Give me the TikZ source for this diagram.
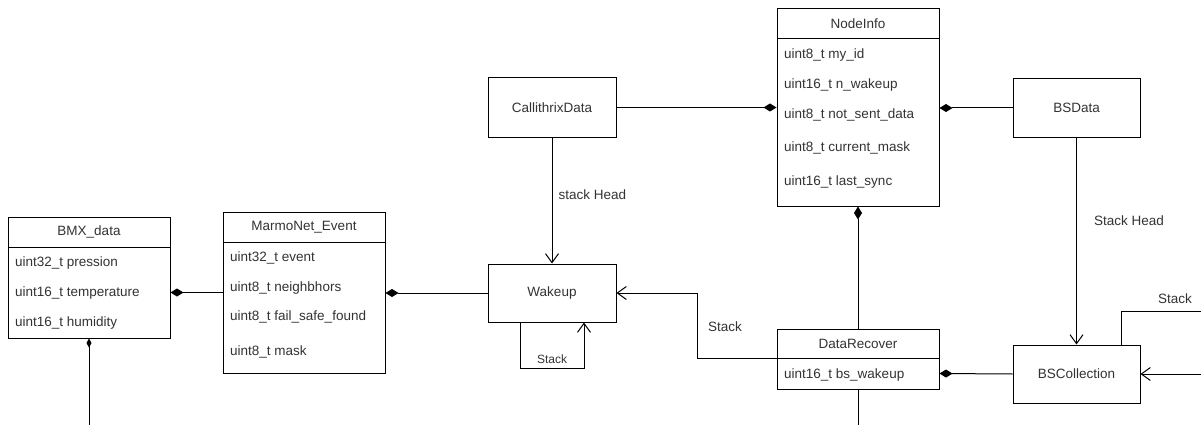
\documentclass[tikz,border=0pt]{standalone}
\usepackage{fontspec}
\setmainfont{Liberation Sans}
\usetikzlibrary{arrows.meta}
\definecolor{txt}{HTML}{333333}
\tikzset{
  box/.style={draw=black, line width=1pt, fill=white, inner sep=0pt, text=txt,
    font=\fontsize{13.5}{16}\selectfont},
  row/.style={anchor=west, inner sep=0pt, text=txt, font=\fontsize{13.5}{16}\selectfont},
  lbl/.style={inner sep=0pt, text=txt, font=\fontsize{13.5}{16}\selectfont},
  small/.style={inner sep=0pt, text=txt, font=\fontsize{12}{14}\selectfont},
  link/.style={draw=black, line width=1pt},
  comp/.style={link, {Diamond[length=13pt,width=8pt]}-},
  smallcomp/.style={link, {Diamond[length=9pt,width=5pt]}-},
  nav/.style={link, -{Straight Barb[length=9pt,width=13pt,line width=1pt]}}
}
\begin{document}
\begin{tikzpicture}[x=1pt,y=-1pt]
\useasboundingbox (0,0) rectangle (1201,425);

% ---- BMX_data ----
\node[box, minimum width=162pt, minimum height=30pt] (bmxh) at (89,232) {BMX\_data};
\node[box, minimum width=162pt, minimum height=91pt] (bmx) at (89,292.5) {};
\node[row] (bmx1) at (15,263) {uint32\_t pression};
\node[row] (bmx2) at (15,293) {uint16\_t temperature};
\node[row] (bmx3) at (15,323) {uint16\_t humidity};

% ---- MarmoNet_Event ----
\node[box, minimum width=162pt, minimum height=30pt] (meh) at (304,227) {MarmoNet\_Event};
\node[box, minimum width=162pt, minimum height=131pt] (me) at (304,307.5) {};
\node[row] (me1) at (230,258) {uint32\_t event};
\node[row] (me2) at (230,288) {uint8\_t neighbhors};
\node[row] (me3) at (230,317) {uint8\_t fail\_safe\_found};
\node[row] (me4) at (230,352) {uint8\_t mask};

% ---- NodeInfo ----
\node[box, minimum width=162pt, minimum height=30pt] (nih) at (858,24) {NodeInfo};
\node[box, minimum width=162pt, minimum height=167pt] (ni) at (858,122.5) {};
\node[row] (ni1) at (784,55) {uint8\_t my\_id};
\node[row] (ni2) at (784,85) {uint16\_t n\_wakeup};
\node[row] (ni3) at (784,115) {uint8\_t not\_sent\_data};
\node[row] (ni4) at (784,148) {uint8\_t current\_mask};
\node[row] (ni5) at (784,182) {uint16\_t last\_sync};

% ---- DataRecover ----
\node[box, minimum width=162pt, minimum height=29pt] (drh) at (858,343.5) {DataRecover};
\node[box, minimum width=162pt, minimum height=31pt] (dr) at (858,373.5) {};
\node[row] (dr1) at (784,375) {uint16\_t bs\_wakeup};

% ---- plain boxes ----
\node[box, minimum width=128pt, minimum height=59pt] (cal) at (552,107.5) {CallithrixData};
\node[box, minimum width=127pt, minimum height=58pt] (bsd) at (1076.5,108) {BSData};
\node[box, minimum width=128pt, minimum height=58pt] (wk) at (552,293) {Wakeup};
\node[box, minimum width=127pt, minimum height=58pt] (bsc) at (1076.5,374) {BSCollection};

% free ends at the border
\coordinate (bmxend) at (89,425);
\coordinate (drend) at (858,425);
\coordinate (stackend) at (1201,311);
\coordinate (inend) at (1201,374);

% ---- compositions ----
\draw[smallcomp] (bmx.south) -- (bmxend);
\draw[comp] (bmx.east) -- (me.west |- bmx.east);
\draw[comp] (me.east |- wk.west) -- (wk.west);
\draw[comp] (ni.west |- cal.east) -- (cal.east);
\draw[comp] (ni.east |- bsd.west) -- (bsd.west);
\draw[comp] (ni.south) -- (drh.north);
\draw[comp] (dr.east) -- (bsc.west);
\draw[link] (dr.south) -- (drend);

% ---- navigable links ----
\draw[nav] (cal.south) -- node[lbl, anchor=west, pos=0.45, xshift=6pt] (lsh) {stack Head} (wk.north);
\draw[nav] (bsd.south) -- node[lbl, anchor=west, pos=0.4, xshift=17pt] (lSH) {Stack Head} (bsc.north);
\draw[nav] (wk.south -| 520,0) |- (584,368) node[small, pos=0.75, above=4pt] (lloop) {Stack} -- (wk.south -| 584,0);
\draw[nav] (drh.south west) -| (697,293) -- (wk.east);
\node[lbl] (lst) at (725,327) {Stack};
\draw[link] (bsc.north -| 1121,0) |- (stackend);
\node[lbl] (lst2) at (1175,299) {Stack};
\draw[nav] (inend) -- (bsc.east);
\end{tikzpicture}
\end{document}
